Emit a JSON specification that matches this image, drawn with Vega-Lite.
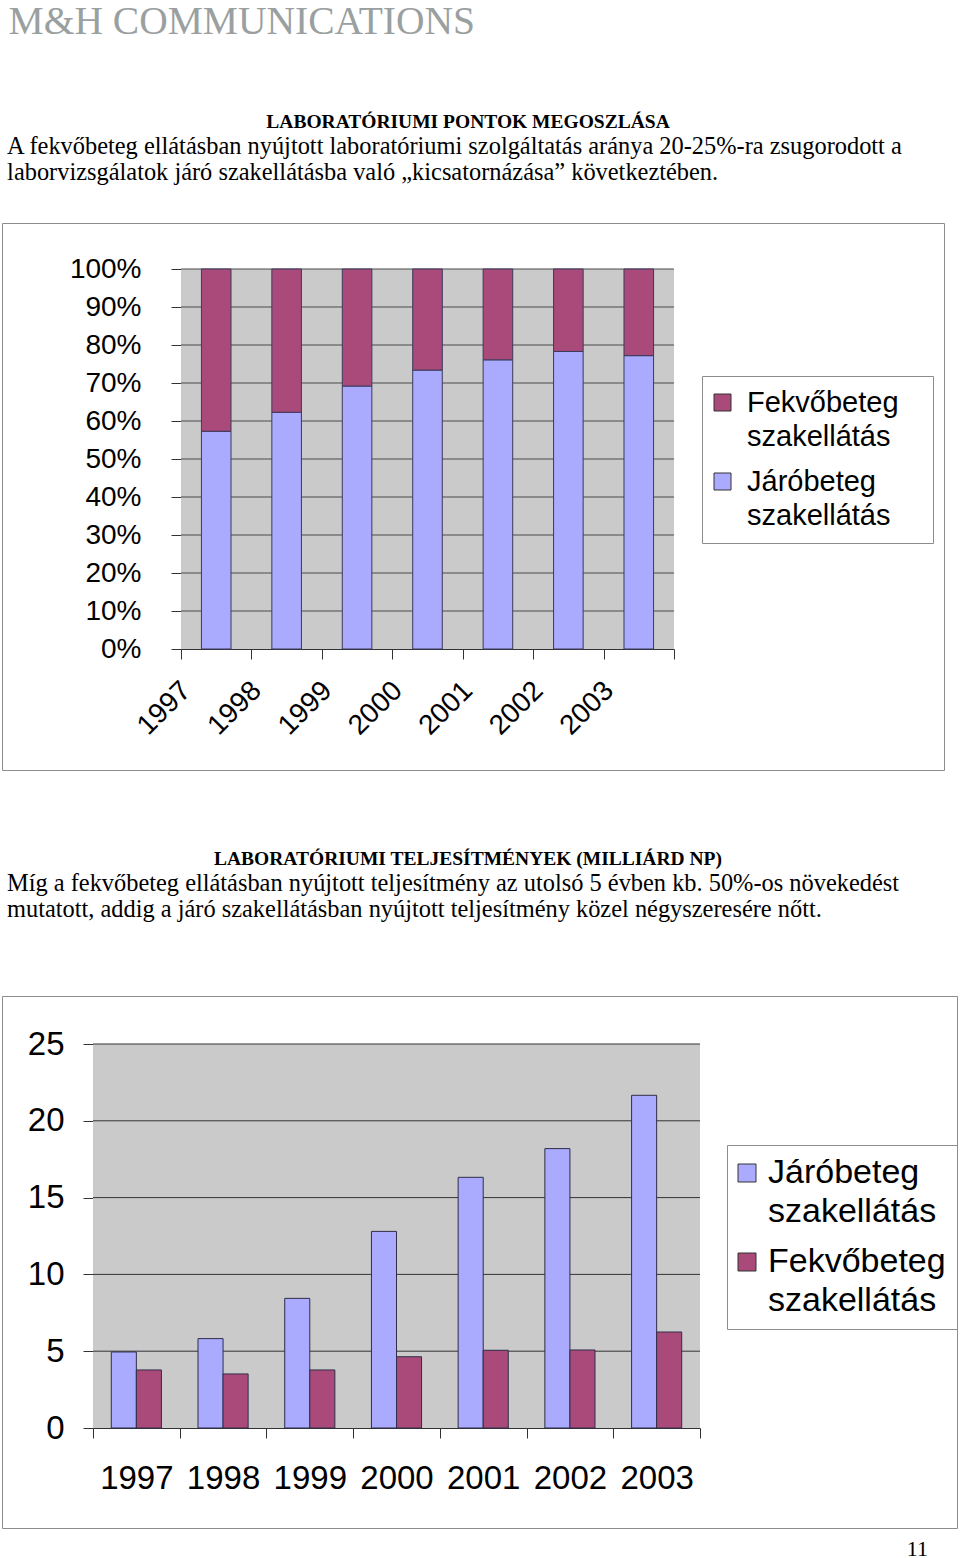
{
  "$schema": "https://vega.github.io/schema/vega-lite/v6.json",
  "padding": {"left": -9, "top": 2, "right": 0, "bottom": 0},
  "background": "white",
  "config": {
    "view": {"stroke": null},
    "font": "Liberation Sans",
    "title": {"font": "Liberation Serif", "color": "black", "fontWeight": "normal"}
  },
  "title": {"text": "M&H COMMUNICATIONS", "anchor": "start", "fontSize": 39.5, "color": "#9aa0a0", "dx": 17, "offset": 69},
  "resolve": {"scale": {"color": "independent"}, "legend": {"color": "independent"}},
  "spacing": 78,
  "vconcat": [
    {
      "spacing": 0,
      "resolve": {"scale": {"color": "independent"}, "legend": {"color": "independent"}},
      "vconcat": [
        {
          "width": 942, "height": 1,
          "data": {"values": [{}]},
          "mark": {"type": "text"},
          "encoding": {"text": {"value": ""}},
          "title": {"text": "LABORATÓRIUMI PONTOK MEGOSZLÁSA", "anchor": "middle", "fontSize": 19.5, "fontWeight": "bold", "offset": 0, "dx": -5, "dy": 10.5}
        },
        {
          "width": 942, "height": 547,
          "view": {"stroke": "#8c8c8c", "strokeWidth": 1},
          "title": {
            "text": ["A fekvőbeteg ellátásban nyújtott laboratóriumi szolgáltatás aránya 20-25%-ra zsugorodott a", "laborvizsgálatok járó szakellátásba való „kicsatornázása” következtében."],
            "anchor": "start", "fontSize": 24.4, "lineHeight": 26, "dx": 15, "offset": 38
          },
          "resolve": {"scale": {"x": "independent", "y": "independent"}},
          "layer": [
            {
              "data": {"values": [{}]},
              "mark": {"type": "rect", "color": "#CACACA"},
              "encoding": {
                "x": {"datum": 0, "type": "quantitative", "scale": {"domain": [0, 1], "range": [179, 672]}, "axis": null},
                "x2": {"datum": 1},
                "y": {"datum": 0, "type": "quantitative", "scale": {"domain": [0, 1], "range": [426, 46], "nice": false}, "axis": null},
                "y2": {"datum": 1}
              }
            },
            {
              "data": {"values": [{"g": 0.1}, {"g": 0.2}, {"g": 0.3}, {"g": 0.4}, {"g": 0.5}, {"g": 0.6}, {"g": 0.7}, {"g": 0.8}, {"g": 0.9}, {"g": 1.0}]},
              "mark": {"type": "rule", "color": "#4a4a4a", "strokeWidth": 1},
              "encoding": {
                "x": {"datum": 0, "type": "quantitative", "scale": {"domain": [0, 1], "range": [179, 672]}, "axis": null},
                "x2": {"datum": 1},
                "y": {"field": "g", "type": "quantitative", "scale": {"domain": [0, 1], "range": [426, 46], "nice": false}, "axis": null}
              }
            },
            {
              "data": {"values": [
                {"year": "1997", "series": "Járóbeteg szakellátás", "value": 0.573},
                {"year": "1998", "series": "Járóbeteg szakellátás", "value": 0.623},
                {"year": "1999", "series": "Járóbeteg szakellátás", "value": 0.692},
                {"year": "2000", "series": "Járóbeteg szakellátás", "value": 0.734},
                {"year": "2001", "series": "Járóbeteg szakellátás", "value": 0.761},
                {"year": "2002", "series": "Járóbeteg szakellátás", "value": 0.783},
                {"year": "2003", "series": "Járóbeteg szakellátás", "value": 0.772},
                {"year": "1997", "series": "Fekvőbeteg szakellátás", "value": 0.427},
                {"year": "1998", "series": "Fekvőbeteg szakellátás", "value": 0.377},
                {"year": "1999", "series": "Fekvőbeteg szakellátás", "value": 0.308},
                {"year": "2000", "series": "Fekvőbeteg szakellátás", "value": 0.266},
                {"year": "2001", "series": "Fekvőbeteg szakellátás", "value": 0.239},
                {"year": "2002", "series": "Fekvőbeteg szakellátás", "value": 0.217},
                {"year": "2003", "series": "Fekvőbeteg szakellátás", "value": 0.228}
              ]},
              "mark": {"type": "bar", "width": {"band": 0.42}, "stroke": "#3a3a5a", "strokeWidth": 1},
              "encoding": {
                "x": {
                  "field": "year", "type": "ordinal",
                  "scale": {"range": [179, 672], "paddingInner": 0, "paddingOuter": 0},
                  "axis": {"orient": "bottom", "offset": -121, "title": null, "tickBand": "extent", "domainColor": "#333333", "tickColor": "#333333", "tickSize": 10, "labelAngle": -45, "labelAlign": "right", "labelBaseline": "middle", "labelFontSize": 28, "labelColor": "black", "labelPadding": 27, "labelOffset": -30}
                },
                "y": {
                  "field": "value", "type": "quantitative", "stack": "zero",
                  "scale": {"domain": [0, 1], "range": [426, 46], "nice": false},
                  "axis": {"orient": "left", "offset": -179, "values": [0, 0.1, 0.2, 0.3, 0.4, 0.5, 0.6, 0.7, 0.8, 0.9, 1], "format": ".0%", "title": null, "grid": false, "domainColor": "#333333", "tickColor": "#333333", "tickSize": 10, "labelFontSize": 28, "labelColor": "black", "labelPadding": 30, "labelOverlap": false}
                },
                "color": {
                  "field": "series", "type": "nominal",
                  "scale": {"domain": ["Fekvőbeteg szakellátás", "Járóbeteg szakellátás"], "range": ["#AA4A7B", "#AAAAFF"]},
                  "legend": {"title": "\u00a0", "titleOrient": "right", "titlePadding": 22, "titleFontSize": 8, "orient": "none", "legendX": 700, "legendY": 153, "padding": 12, "strokeColor": "#8c8c8c", "fillColor": "white", "symbolType": "square", "symbolSize": 289, "symbolStrokeColor": "#333333", "symbolStrokeWidth": 1, "symbolOffset": -6, "labelFontSize": 29, "labelColor": "black", "labelLimit": 0, "labelOffset": 10, "rowPadding": 15, "labelExpr": "split(datum.label, ' ')", "encode": {"labels": {"update": {"lineHeight": {"value": 34}}}}}
                },
                "order": {"field": "series", "sort": "descending"}
              }
            }
          ]
        }
      ]
    },
    {
      "spacing": 0,
      "resolve": {"scale": {"color": "independent"}, "legend": {"color": "independent"}},
      "vconcat": [
        {
          "width": 942, "height": 1,
          "data": {"values": [{}]},
          "mark": {"type": "text"},
          "encoding": {"text": {"value": ""}},
          "title": {"text": "LABORATÓRIUMI TELJESÍTMÉNYEK (MILLIÁRD NP)", "anchor": "middle", "fontSize": 19.5, "fontWeight": "bold", "offset": 0, "dx": -5, "dy": 11}
        },
        {
          "width": 955, "height": 532,
          "view": {"stroke": "#8c8c8c", "strokeWidth": 1},
          "title": {
            "text": ["Míg a fekvőbeteg ellátásban nyújtott teljesítmény az utolsó 5 évben kb. 50%-os növekedést", "mutatott, addig a járó szakellátásban nyújtott teljesítmény közel négyszeresére nőtt."],
            "anchor": "start", "fontSize": 24.4, "lineHeight": 26, "dx": 5, "offset": 74
          },
          "resolve": {"scale": {"x": "independent", "y": "independent"}},
          "layer": [
            {
              "data": {"values": [{}]},
              "mark": {"type": "rect", "color": "#CACACA"},
              "encoding": {
                "x": {"datum": 0, "type": "quantitative", "scale": {"domain": [0, 1], "range": [91, 698]}, "axis": null},
                "x2": {"datum": 1},
                "y": {"datum": 0, "type": "quantitative", "scale": {"domain": [0, 25], "range": [432, 48], "nice": false}, "axis": null},
                "y2": {"datum": 25}
              }
            },
            {
              "data": {"values": [{"g": 5}, {"g": 10}, {"g": 15}, {"g": 20}, {"g": 25}]},
              "mark": {"type": "rule", "color": "#333333", "strokeWidth": 1},
              "encoding": {
                "x": {"datum": 0, "type": "quantitative", "scale": {"domain": [0, 1], "range": [91, 698]}, "axis": null},
                "x2": {"datum": 1},
                "y": {"field": "g", "type": "quantitative", "scale": {"domain": [0, 25], "range": [432, 48], "nice": false}, "axis": null}
              }
            },
            {
              "data": {"values": [
                {"year": "1997", "series": "Járóbeteg szakellátás", "value": 4.95},
                {"year": "1998", "series": "Járóbeteg szakellátás", "value": 5.82},
                {"year": "1999", "series": "Járóbeteg szakellátás", "value": 8.44},
                {"year": "2000", "series": "Járóbeteg szakellátás", "value": 12.8},
                {"year": "2001", "series": "Járóbeteg szakellátás", "value": 16.32},
                {"year": "2002", "series": "Járóbeteg szakellátás", "value": 18.19},
                {"year": "2003", "series": "Járóbeteg szakellátás", "value": 21.66},
                {"year": "1997", "series": "Fekvőbeteg szakellátás", "value": 3.78},
                {"year": "1998", "series": "Fekvőbeteg szakellátás", "value": 3.52},
                {"year": "1999", "series": "Fekvőbeteg szakellátás", "value": 3.78},
                {"year": "2000", "series": "Fekvőbeteg szakellátás", "value": 4.64},
                {"year": "2001", "series": "Fekvőbeteg szakellátás", "value": 5.06},
                {"year": "2002", "series": "Fekvőbeteg szakellátás", "value": 5.08},
                {"year": "2003", "series": "Fekvőbeteg szakellátás", "value": 6.25}
              ]},
              "mark": {"type": "bar", "stroke": "#2e2e48", "strokeWidth": 1},
              "encoding": {
                "x": {
                  "field": "year", "type": "ordinal",
                  "scale": {"range": [91, 698], "paddingInner": 0, "paddingOuter": 0},
                  "axis": {"orient": "bottom", "offset": -100, "title": null, "tickBand": "extent", "domainColor": "#333333", "tickColor": "#333333", "tickSize": 10, "labelAngle": 0, "labelFontSize": 33, "labelColor": "black", "labelPadding": 24}
                },
                "xOffset": {
                  "field": "series", "type": "nominal",
                  "scale": {"domain": ["Járóbeteg szakellátás", "Fekvőbeteg szakellátás"], "paddingInner": 0, "paddingOuter": 0.73}
                },
                "y": {
                  "field": "value", "type": "quantitative",
                  "scale": {"domain": [0, 25], "range": [432, 48], "nice": false},
                  "axis": {"orient": "left", "offset": -91, "values": [0, 5, 10, 15, 20, 25], "title": null, "grid": false, "domainColor": "#333333", "tickColor": "#333333", "tickSize": 10, "labelFontSize": 33, "labelColor": "black", "labelPadding": 19, "labelOverlap": false}
                },
                "color": {
                  "field": "series", "type": "nominal",
                  "scale": {"domain": ["Járóbeteg szakellátás", "Fekvőbeteg szakellátás"], "range": ["#AAAAFF", "#AA4A7B"]},
                  "legend": {"title": null, "orient": "none", "legendX": 725, "legendY": 149, "padding": 11, "strokeColor": "#8c8c8c", "fillColor": "white", "symbolType": "square", "symbolSize": 324, "symbolStrokeColor": "#333333", "symbolStrokeWidth": 1, "symbolOffset": -8, "labelFontSize": 34, "labelColor": "black", "labelLimit": 0, "labelOffset": 4, "rowPadding": 16, "labelExpr": "split(datum.label, ' ')", "encode": {"labels": {"update": {"lineHeight": {"value": 39}}}}}
                }
              }
            }
          ]
        },
        {
          "width": 926, "height": 1,
          "data": {"values": [{}]},
          "mark": {"type": "text"},
          "encoding": {"text": {"value": ""}},
          "title": {"text": "11", "orient": "bottom", "anchor": "end", "fontSize": 22, "offset": -2}
        }
      ]
    }
  ]
}
